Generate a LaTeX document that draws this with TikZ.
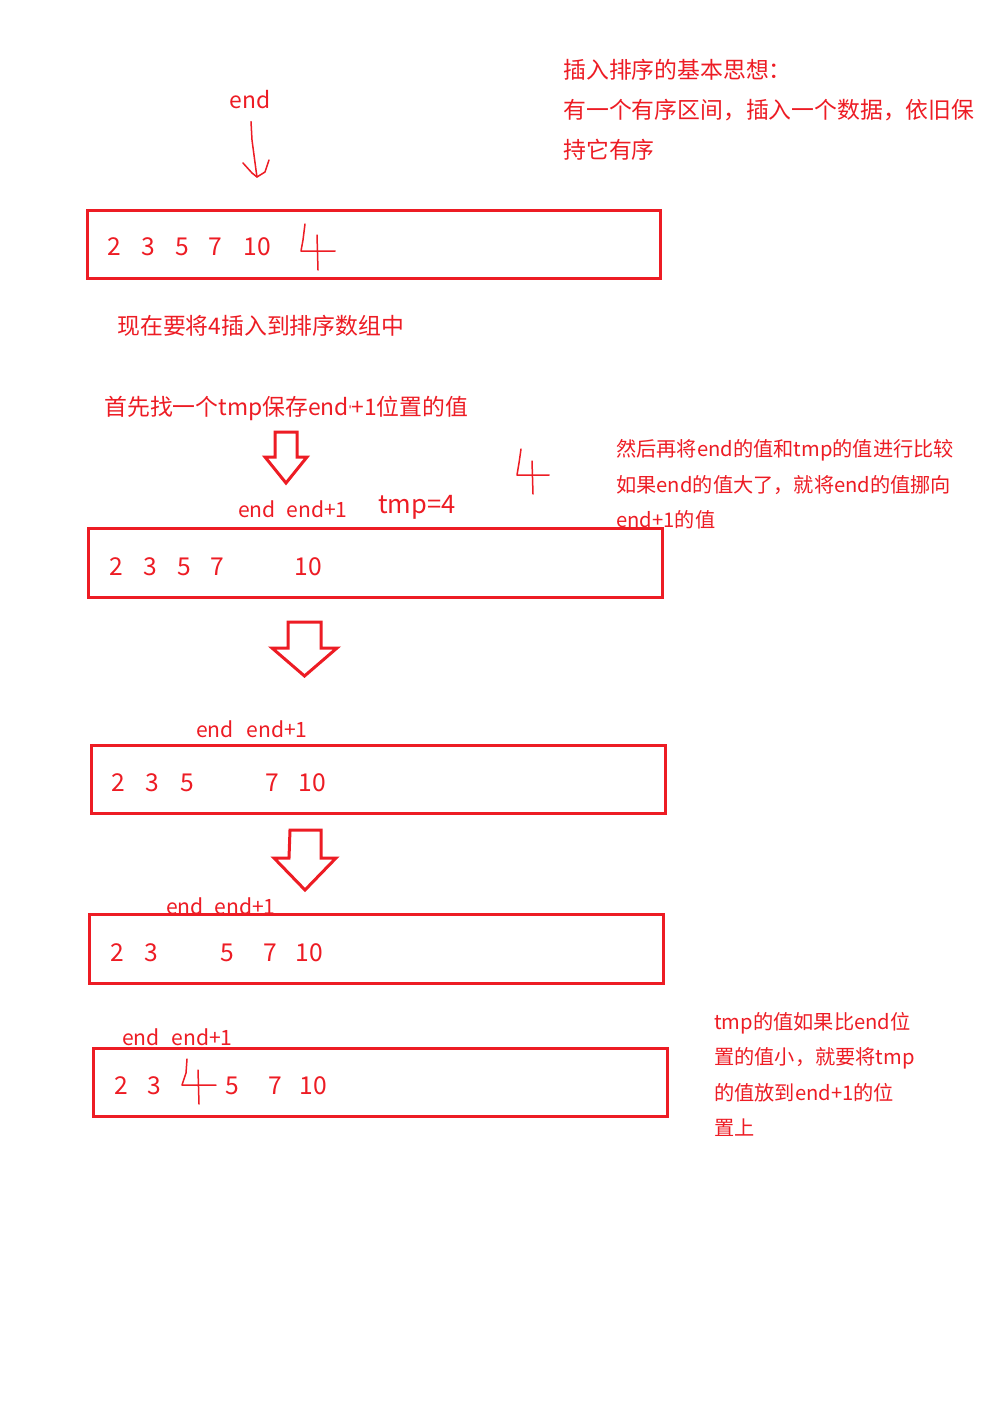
\documentclass[tikz,border=0pt]{standalone}
\usepackage{fontspec}
\setmainfont{Noto Sans CJK SC}
\newfontfamily\latinfont{Liberation Sans}
\usepackage{tikz}
\usetikzlibrary{positioning}
\definecolor{paintred}{RGB}{237,28,36}

\begin{document}
\begin{tikzpicture}[x=0.02cm, y=-0.02cm, color=paintred,
		boxline/.style={line width=0.06cm},
		blockarrow/.style={line width=0.06cm, line join=miter},
		hand/.style={line width=0.03cm, line join=round, line cap=round},
		num/.style={inner sep=0pt, font=\fontsize{14pt}{16pt}\selectfont},
		lbl/.style={inner sep=0pt, font=\fontsize{12pt}{14pt}\selectfont},
		note/.style={inner sep=0pt, anchor=west, font=\fontsize{13pt}{15pt}\selectfont},
		smallnote/.style={inner sep=0pt, anchor=west, font=\fontsize{11.5pt}{13pt}\selectfont}]
		\path[use as bounding box, fill=white] (0,0) rectangle (1001,1423);
		% basic idea
		\node[note] (idea1) at (563,70) {插入排序的基本思想：};
		\node[note] (idea2) at (563,110) {有一个有序区间，插入一个数据，依旧保};
		\node[note] (idea3) at (563,150) {持它有序};
		% first array
		\node[note, font=\fontsize{13pt}{15pt}\selectfont, anchor=center] (topend) at (250,100) {end};
		\coordinate (hookbot) at (257,177);
		\draw[hand] (topend.south) ++(1,12) -- (252,140) -- (256,170) -- (hookbot);
		\draw[hand] (243,163) -- (252,173) -- (hookbot) -- (265,172) -- (269,160);
		\draw[boxline] (87,210) rectangle (660,278);
		\node[num] (a2) at (114,247) {2};
		\node[num] (a3) at (148,247) {3};
		\node[num] (a5) at (182,247) {5};
		\node[num] (a7) at (215,247) {7};
		\node[num] (a10) at (257,247) {10};
		\draw[hand] (305,224) -- (303,240) -- (301,251) -- (335,251);
		\draw[hand] (317,235) -- (318,270);
		\node[note] (insert) at (117,326) {现在要将4插入到排序数组中};
		\node[note] (first) at (104,408) {首先找一个tmp保存end{\latinfont\fontsize{8pt}{8pt}\selectfont\char"27}+1位置的值};
		% arrow 1
		\coordinate (s1) at (286,432);
		\draw[blockarrow] (s1) ++(-11,0) -- ++(22,0) -- ++(0,25) -- ++(10,0) -- ++(-21,26) -- ++(-21,-26) -- ++(10,0) -- cycle;
		% second array
		\node[lbl] (e2) at (257,509) {end};
		\node[lbl] (f2) at (317,509) {end+1};
		\node[note, font=\fontsize{14.5pt}{16pt}\selectfont, anchor=center] (tmp) at (417,507) {tmp=4};
		\draw[hand] (521,449) -- (519,463) -- (517,475) -- (549,475);
		\draw[hand] (532,461) -- (533,494);
		\node[smallnote] (cmp1) at (616,450) {然后再将end的值和tmp的值进行比较};
		\node[smallnote] (cmp2) at (616,485) {如果end的值大了，就将end的值挪向};
		\node[smallnote] (cmp3) at (616,520) {end+1的值};
		\draw[boxline] (88,528) rectangle (662,597);
		\node[num] (b2) at (116,567) {2};
		\node[num] (b3) at (150,567) {3};
		\node[num] (b5) at (184,567) {5};
		\node[num] (b7) at (217,567) {7};
		\node[num] (b10) at (308,567) {10};
		% arrow 2
		\coordinate (s2) at (304.5,622);
		\draw[blockarrow] (s2) ++(-16.5,0) -- ++(33,0) -- ++(0,26) -- ++(16,0) -- ++(-32.5,28) -- ++(-32.5,-28) -- ++(16,0) -- cycle;
		% third array
		\node[lbl] (e3) at (215,729) {end};
		\node[lbl] (f3) at (277,729) {end+1};
		\draw[boxline] (91,745) rectangle (665,813);
		\node[num] (c2) at (118,783) {2};
		\node[num] (c3) at (152,783) {3};
		\node[num] (c5) at (187,783) {5};
		\node[num] (c7) at (272,783) {7};
		\node[num] (c10) at (312,783) {10};
		% arrow 3
		\coordinate (s3) at (305.5,830);
		\draw[blockarrow] (s3) ++(-15.5,0) -- ++(31,0) -- ++(0,28) -- ++(15,0) -- ++(-31,32) -- ++(-31,-32) -- ++(15,0) -- cycle;
		% fourth array
		\node[lbl] (e4) at (185,906) {end};
		\node[lbl] (f4) at (245,906) {end+1};
		\draw[boxline] (89,914) rectangle (663,983);
		\node[num] (d2) at (117,953) {2};
		\node[num] (d3) at (151,953) {3};
		\node[num] (d5) at (227,953) {5};
		\node[num] (d7) at (270,953) {7};
		\node[num] (d10) at (309,953) {10};
		% last array
		\node[lbl] (e5) at (141,1037) {end};
		\node[lbl] (f5) at (202,1037) {end+1};
		\draw[boxline] (93,1048) rectangle (667,1116);
		\node[num] (g2) at (121,1086) {2};
		\node[num] (g3) at (154,1086) {3};
		\node[num] (g5) at (232,1086) {5};
		\node[num] (g7) at (275,1086) {7};
		\node[num] (g10) at (313,1086) {10};
		\draw[hand] (187,1059) -- (186,1073) -- (182,1085) -- (216,1085);
		\draw[hand] (198,1070) -- (199,1104);
		\node[smallnote] (put1) at (714,1023) {tmp的值如果比end位};
		\node[smallnote] (put2) at (714,1058) {置的值小，就要将tmp};
		\node[smallnote] (put3) at (714,1093) {的值放到end+1的位};
		\node[smallnote] (put4) at (714,1128) {置上};
	\end{tikzpicture}
\end{document}
